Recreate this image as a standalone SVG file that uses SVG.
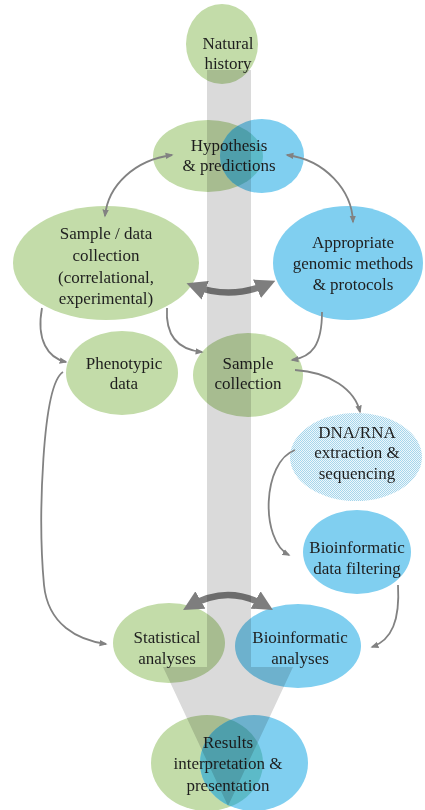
<svg xmlns="http://www.w3.org/2000/svg" width="425" height="810" viewBox="0 0 425 810">
<style>
.g{fill:#c3dca9}
.b{fill:#80cff0}
.ov{fill:#5cbac8}
.t{font-family:"Liberation Serif","Times New Roman",serif;font-size:17px;fill:#1e1e1e;text-anchor:middle}
.thin{fill:none;stroke:#828282;stroke-width:1.8}
.thick{fill:none;stroke:#7e7e7e;stroke-width:6.5}
.bar{fill:#dadada;mix-blend-mode:multiply}
</style>
<defs>
<marker id="ah" viewBox="0 0 10 10" refX="8" refY="5" markerWidth="8" markerHeight="8" markerUnits="userSpaceOnUse" orient="auto-start-reverse">
<path d="M0,1 L10,5 L0,9 z" fill="#828282"/>
</marker>
<marker id="AH" viewBox="0 0 10 10" refX="6" refY="5" markerWidth="20" markerHeight="20" markerUnits="userSpaceOnUse" orient="auto-start-reverse">
<path d="M0,0 L10,5 L0,10 z" fill="#7e7e7e"/>
</marker>
<pattern id="dots" x="0" y="0" width="2" height="2" patternUnits="userSpaceOnUse">
<rect width="2" height="2" fill="#eef7fb"/>
<rect width="1" height="1" fill="#a6d6ec"/>
<rect x="1" y="1" width="1" height="1" fill="#a6d6ec"/>
</pattern>
<clipPath id="hypClip"><ellipse cx="262" cy="156" rx="42" ry="37"/></clipPath>
<clipPath id="resClip"><ellipse cx="254" cy="763" rx="54" ry="48"/></clipPath>
</defs>
<rect width="425" height="810" fill="#ffffff"/>

<g id="n-natural">
<ellipse class="g" cx="222" cy="44" rx="36" ry="40"/>
<text class="t" x="228" y="49">Natural</text>
<text class="t" x="228" y="69">history</text>
</g>
<g id="n-hypothesis">
<ellipse class="g" cx="208" cy="156" rx="55" ry="36"/>
<ellipse class="b" cx="262" cy="156" rx="42" ry="37"/>
<ellipse class="ov" cx="208" cy="156" rx="55" ry="36" clip-path="url(#hypClip)"/>
<text class="t" x="229" y="151">Hypothesis</text>
<text class="t" x="229" y="171">&amp; predictions</text>
</g>
<g id="n-sampledata">
<ellipse class="g" cx="106" cy="263" rx="93" ry="57"/>
<text class="t" x="106" y="239">Sample / data</text>
<text class="t" x="106" y="261">collection</text>
<text class="t" x="106" y="283">(correlational,</text>
<text class="t" x="106" y="304">experimental)</text>
</g>
<g id="n-methods">
<ellipse class="b" cx="348" cy="263" rx="75" ry="57"/>
<text class="t" x="353" y="248">Appropriate</text>
<text class="t" x="353" y="269">genomic methods</text>
<text class="t" x="353" y="290">&amp; protocols</text>
</g>
<g id="n-phenotypic">
<ellipse class="g" cx="122" cy="373" rx="56" ry="42"/>
<text class="t" x="124" y="369">Phenotypic</text>
<text class="t" x="124" y="389">data</text>
</g>
<g id="n-samplecollection">
<ellipse class="g" cx="248" cy="375" rx="55" ry="42"/>
<text class="t" x="248" y="369">Sample</text>
<text class="t" x="248" y="389">collection</text>
</g>
<g id="n-dna">
<ellipse cx="356" cy="457" rx="66" ry="44" fill="url(#dots)"/>
<text class="t" x="357" y="438">DNA/RNA</text>
<text class="t" x="357" y="458">extraction &amp;</text>
<text class="t" x="357" y="479">sequencing</text>
</g>
<g id="n-filtering">
<ellipse class="b" cx="357" cy="552" rx="54" ry="42"/>
<text class="t" x="357" y="553">Bioinformatic</text>
<text class="t" x="357" y="574">data filtering</text>
</g>
<g id="n-statistical">
<ellipse class="g" cx="169" cy="643" rx="56" ry="40"/>
<text class="t" x="167" y="643">Statistical</text>
<text class="t" x="167" y="664">analyses</text>
</g>
<g id="n-bioanalyses">
<ellipse class="b" cx="298" cy="646" rx="63" ry="42"/>
<text class="t" x="300" y="643">Bioinformatic</text>
<text class="t" x="300" y="664">analyses</text>
</g>
<g id="n-results">
<ellipse class="g" cx="207" cy="763" rx="56" ry="48"/>
<ellipse class="b" cx="254" cy="763" rx="54" ry="48"/>
<ellipse class="ov" cx="207" cy="763" rx="56" ry="48" clip-path="url(#resClip)"/>
<text class="t" x="228" y="748">Results</text>
<text class="t" x="228" y="769">interpretation &amp;</text>
<text class="t" x="228" y="791">presentation</text>
</g>

<g id="connectors">
<path class="thin" d="M172,155 C135,160 108,185 105,216" marker-start="url(#ah)" marker-end="url(#ah)"/>
<path class="thin" d="M287,155 C325,160 352,190 353,222" marker-start="url(#ah)" marker-end="url(#ah)"/>
<path class="thick" d="M194,286 Q231,300 268,284" marker-start="url(#AH)" marker-end="url(#AH)"/>
<path class="thin" d="M42,308 C36,340 48,358 66,362"  marker-end="url(#ah)"/>
<path class="thin" d="M167,308 C165,340 182,350 202,352" marker-end="url(#ah)"/>
<path class="thin" d="M322,312 C322,345 312,357 292,360" marker-end="url(#ah)"/>
<path class="thin" d="M295,370 C330,372 355,390 360,412" marker-end="url(#ah)"/>
<path class="thin" d="M295,450 C262,462 260,540 289,555" marker-end="url(#ah)"/>
<path class="thin" d="M398,585 C400,620 392,640 372,647" marker-end="url(#ah)"/>
<path class="thin" d="M63,372 C42,385 38,520 44,585 C48,625 78,640 106,644" marker-end="url(#ah)"/>
<path class="thick" d="M190,606 Q228,584 266,606" marker-start="url(#AH)" marker-end="url(#AH)"/>
</g>

<g id="backbone">
<path class="bar" d="M207,70 L251,70 L251,667 L293,667 L228,806 L163,667 L207,667 Z"/>
</g>
</svg>
